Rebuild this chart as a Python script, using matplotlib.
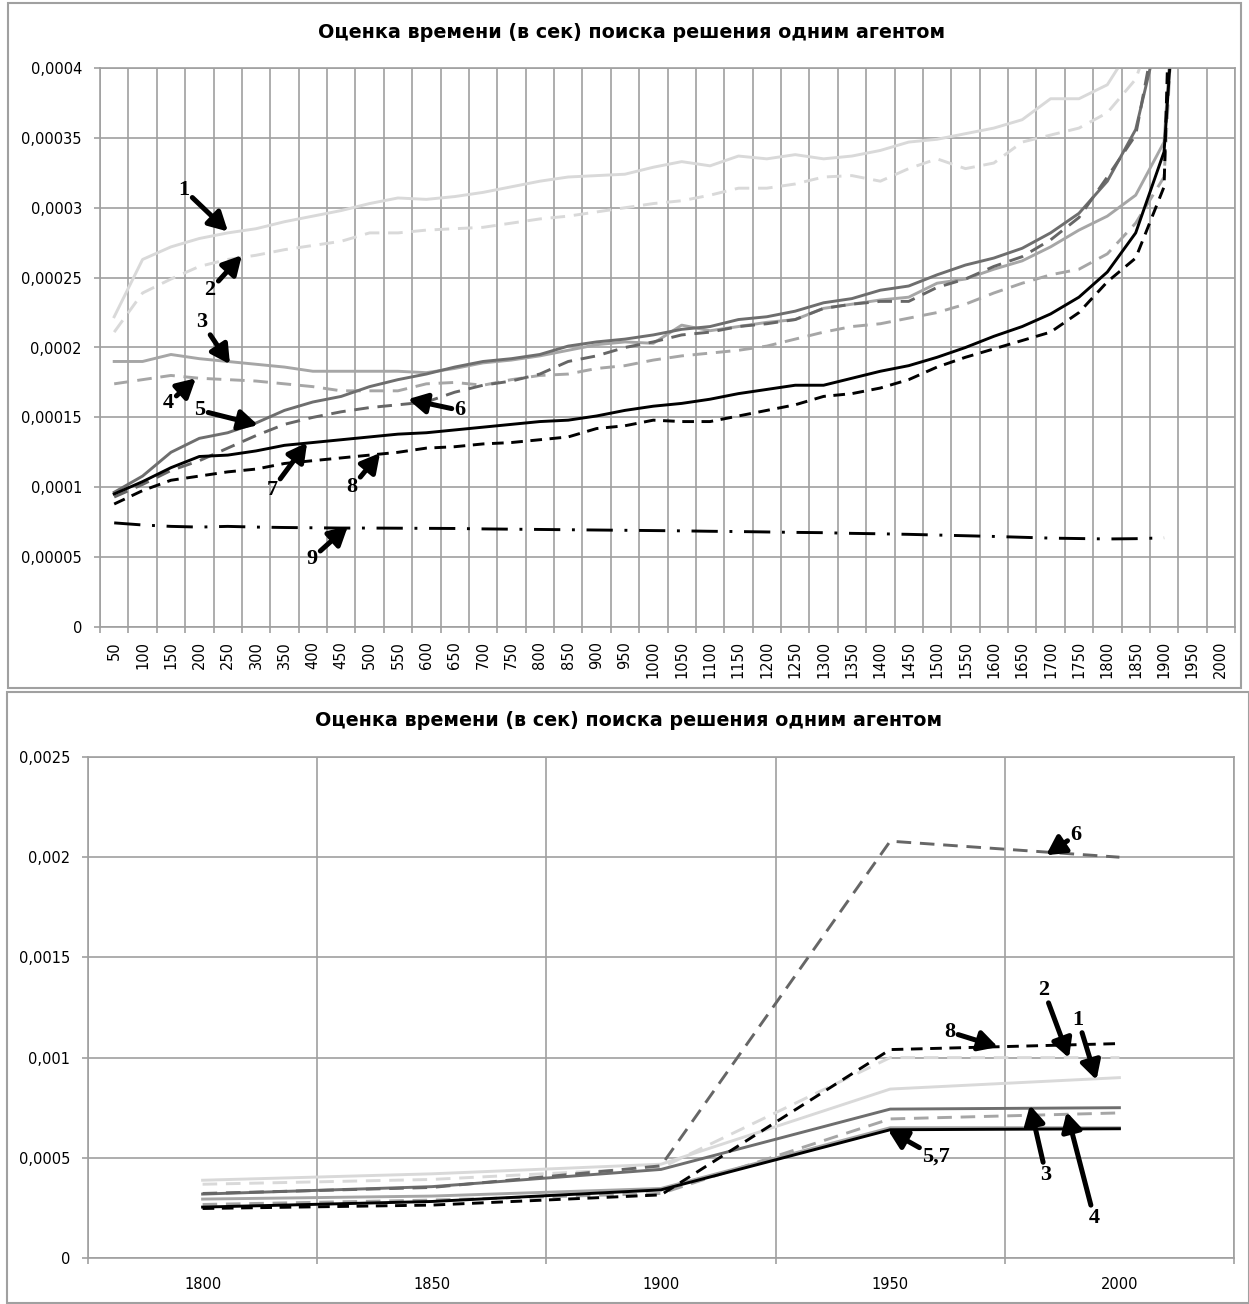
import numpy as np
import matplotlib
matplotlib.use("Agg")
import matplotlib.pyplot as plt
import matplotlib.patches as patches

# данные: время поиска решения (сек) для 9 вариантов, по числу ... от 50 до 2000
categories = list(range(50, 2001, 50))

s1 = [0.000222, 0.000263, 0.000272, 0.000278, 0.000282, 0.000285, 0.000290, 0.000294,
      0.000298, 0.000303, 0.000307, 0.000306, 0.000308, 0.000311, 0.000315, 0.000319,
      0.000322, 0.000323, 0.000324, 0.000329, 0.000333, 0.000330, 0.000337, 0.000335,
      0.000338, 0.000335, 0.000337, 0.000341, 0.000347, 0.000349, 0.000353, 0.000357,
      0.000363, 0.000378, 0.000378, 0.000388, 0.000420, 0.000468, 0.000843, 0.000900]
s2 = [0.000211, 0.000239, 0.000249, 0.000258, 0.000263, 0.000266, 0.000270, 0.000273,
      0.000276, 0.000282, 0.000282, 0.000284, 0.000285, 0.000286, 0.000289, 0.000292,
      0.000294, 0.000297, 0.000300, 0.000303, 0.000305, 0.000309, 0.000314, 0.000314,
      0.000317, 0.000322, 0.000323, 0.000319, 0.000328, 0.000335, 0.000328, 0.000332,
      0.000347, 0.000352, 0.000357, 0.000368, 0.000392, 0.000450, 0.001000, 0.001000]
s3 = [0.000190, 0.000190, 0.000195, 0.000192, 0.000190, 0.000188, 0.000186, 0.000183,
      0.000183, 0.000183, 0.000183, 0.000182, 0.000185, 0.000189, 0.000191, 0.000194,
      0.000198, 0.000202, 0.000204, 0.000203, 0.000216, 0.000212, 0.000215, 0.000218,
      0.000220, 0.000228, 0.000231, 0.000234, 0.000236, 0.000246, 0.000249, 0.000256,
      0.000262, 0.000272, 0.000284, 0.000294, 0.000309, 0.000347, 0.000650, 0.000650]
s4 = [0.000174, 0.000177, 0.000180, 0.000178, 0.000177, 0.000176, 0.000174, 0.000172,
      0.000169, 0.000169, 0.000169, 0.000174, 0.000175, 0.000173, 0.000177, 0.000180,
      0.000181, 0.000185, 0.000187, 0.000191, 0.000194, 0.000196, 0.000198, 0.000201,
      0.000206, 0.000211, 0.000215, 0.000217, 0.000221, 0.000225, 0.000231, 0.000239,
      0.000246, 0.000252, 0.000256, 0.000267, 0.000289, 0.000322, 0.000694, 0.000724]
s5 = [0.0000964, 0.000108, 0.000125, 0.000135, 0.000139, 0.000146, 0.000155, 0.000161,
      0.000165, 0.000172, 0.000177, 0.000181, 0.000186, 0.000190, 0.000192, 0.000195,
      0.000201, 0.000204, 0.000206, 0.000209, 0.000213, 0.000215, 0.000220, 0.000222,
      0.000226, 0.000232, 0.000235, 0.000241, 0.000244, 0.000252, 0.000259, 0.000264,
      0.000271, 0.000282, 0.000296, 0.000319, 0.000356, 0.000442, 0.000743, 0.000750]
s6 = [0.000093, 0.000102, 0.000112, 0.000119, 0.000128, 0.000137, 0.000145, 0.000150,
      0.000154, 0.000157, 0.000159, 0.000161, 0.000168, 0.000173, 0.000176, 0.000181,
      0.000190, 0.000194, 0.000200, 0.000204, 0.000209, 0.000211, 0.000215, 0.000217,
      0.000220, 0.000228, 0.000231, 0.000233, 0.000233, 0.000243, 0.000249, 0.000258,
      0.000265, 0.000277, 0.000293, 0.000322, 0.000352, 0.000460, 0.002080, 0.002000]
s7 = [0.0000952, 0.000104, 0.000114, 0.000122, 0.000123, 0.000126, 0.000130, 0.000132,
      0.000134, 0.000136, 0.000138, 0.000139, 0.000141, 0.000143, 0.000145, 0.000147,
      0.000148, 0.000151, 0.000155, 0.000158, 0.000160, 0.000163, 0.000167, 0.000170,
      0.000173, 0.000173, 0.000178, 0.000183, 0.000187, 0.000193, 0.000200, 0.000208,
      0.000215, 0.000224, 0.000236, 0.000254, 0.000282, 0.000340, 0.000640, 0.000645]
s8 = [0.000088, 0.0000976, 0.000105, 0.000108, 0.000111, 0.000113, 0.000117, 0.000119,
      0.000121, 0.000123, 0.000125, 0.000128, 0.000129, 0.000131, 0.000132, 0.000134,
      0.000136, 0.000142, 0.000144, 0.000148, 0.000147, 0.000147, 0.000151, 0.000155,
      0.000159, 0.000165, 0.000167, 0.000171, 0.000177, 0.000186, 0.000193, 0.000199,
      0.000205, 0.000211, 0.000225, 0.000247, 0.000264, 0.000315, 0.001040, 0.001070]
s9 = [0.0000745, 0.0000730, 0.0000720, 0.0000715, 0.0000720, 0.0000715, 0.0000712, 0.0000710,
      0.0000708, 0.0000708, 0.0000707, 0.0000706, 0.0000705, 0.0000702, 0.0000700, 0.0000698,
      0.0000696, 0.0000694, 0.0000692, 0.0000690, 0.0000688, 0.0000685, 0.0000683, 0.0000680,
      0.0000677, 0.0000675, 0.0000670, 0.0000667, 0.0000663, 0.0000658, 0.0000653, 0.0000648,
      0.0000642, 0.0000636, 0.0000633, 0.0000630, 0.0000632, 0.0000638, np.nan, np.nan]

series = [s1, s2, s3, s4, s5, s6, s7, s8, s9]
colors = ['#d9d9d9', '#d9d9d9', '#a6a6a6', '#a6a6a6', '#6e6e6e', '#666666',
          'black', 'black', 'black']
styles = ['-', (0, (5, 3)), '-', (0, (5, 3)), '-', (0, (5, 3)),
          '-', (0, (4, 2.6)), (0, (9, 4, 1, 4))]

# нижний график - только последние 5 точек (1800..2000), без серии 9
zoom_from = categories.index(1800)

title = 'Оценка времени (в сек) поиска решения одним агентом'

# подписи-стрелки: (текст, x текста, y текста, x стрелки, y стрелки) в координатах данных
top_notes = [('1', 2.46, 3.13e-4, 4.01, 2.83e-4), ('2', 3.38, 2.41e-4, 4.50, 2.66e-4),
             ('3', 3.09, 2.18e-4, 4.08, 1.88e-4), ('4', 1.90, 1.60e-4, 2.88, 1.78e-4),
             ('5', 3.02, 1.55e-4, 5.07, 1.445e-4), ('6', 12.19, 1.55e-4, 10.35, 1.63e-4),
             ('7', 5.56, 0.98e-4, 6.80, 1.32e-4), ('8', 8.38, 1.0e-4, 9.37, 1.245e-4),
             ('9', 6.97, 0.49e-4, 8.24, 0.723e-4)]
bottom_notes = [('6', 3.81, 2.11e-3, 3.68, 2.01e-3), ('8', 3.26, 1.128e-3, 3.47, 1.053e-3),
                ('2', 3.67, 1.337e-3, 3.78, 0.998e-3), ('1', 3.82, 1.188e-3, 3.90, 0.888e-3),
                ('5,7', 3.20, 0.504e-3, 2.99, 0.639e-3), ('3', 3.68, 0.414e-3, 3.61, 0.763e-3),
                ('4', 3.89, 0.20e-3, 3.77, 0.729e-3)]

W, H = 1249, 1304
grid_c = '#a0a0a0'
fig = plt.figure(figsize=(W / 100, H / 100), dpi=100)


def px_rect(x0, y0, x1, y1):
    # прямоугольник в пикселях (от верхнего левого угла) -> доли фигуры
    return [x0 / W, 1 - y1 / H, (x1 - x0) / W, (y1 - y0) / H]


def fmt(v):
    s = f"{v:.5f}".rstrip('0').rstrip('.')
    return s.replace('.', ',')


def style_axes(ax, n, ymax, ystep, rot):
    ax.set_xlim(-0.5, n - 0.5)
    ax.set_ylim(0, ymax)
    yt = np.arange(0, ymax + ystep / 2, ystep)
    ax.set_yticks(yt)
    ax.set_yticklabels([fmt(v) for v in yt])
    ax.set_xticks(np.arange(n + 1) - 0.5)
    ax.set_xticklabels([])
    ax.set_xticks(np.arange(n), minor=True)
    ax.grid(True, which='major', color=grid_c, lw=1.2)
    ax.set_axisbelow(True)
    for sp in ax.spines.values():
        sp.set_color(grid_c)
        sp.set_linewidth(1.2)
    ax.tick_params(axis='y', length=4, color=grid_c, width=1.2, labelsize=10.5, pad=9)
    ax.tick_params(axis='x', which='major', length=4, color=grid_c, width=1.2)
    ax.tick_params(axis='x', which='minor', length=0, labelsize=10.5,
                   pad=10 if rot else 14, labelrotation=rot)


def add_notes(ax, notes):
    for txt, tx, ty, hx, hy in notes:
        ax.annotate(txt, xy=(hx, hy), xytext=(tx, ty), ha='center', va='center',
                    fontsize=16, fontweight='bold', family='Liberation Serif',
                    annotation_clip=False,
                    arrowprops=dict(arrowstyle='-|>,head_length=0.7,head_width=0.38',
                                    lw=3.6, color='black', shrinkA=0, shrinkB=0))


# рамки двух диаграмм
fig.patches.append(patches.Rectangle((8 / W, 1 - 688 / H), (1241 - 8) / W, (688 - 3) / H,
                                     transform=fig.transFigure, fill=False,
                                     edgecolor=grid_c, lw=1.5))
fig.patches.append(patches.Rectangle((7 / W, 1 - 1303 / H), (1249 - 7) / W, (1303 - 692) / H,
                                     transform=fig.transFigure, fill=False,
                                     edgecolor=grid_c, lw=1.5))

# верхняя диаграмма
ax1 = fig.add_axes(px_rect(100, 68, 1235, 627))
x1 = np.arange(len(categories))
for s, c, ls in zip(series, colors, styles):
    ax1.plot(x1, s, color=c, linestyle=ls, lw=2.1)
style_axes(ax1, len(categories), 0.0004, 0.00005, 90)
ax1.set_xticklabels([str(c) for c in categories], minor=True)
add_notes(ax1, top_notes)
fig.text(632 / W, 1 - 32 / H, title, ha='center', va='center', fontsize=13.8,
         fontweight='bold')

# нижняя диаграмма
ax2 = fig.add_axes(px_rect(88, 757, 1234, 1258))
cats2 = categories[zoom_from:]
x2 = np.arange(len(cats2))
for s, c, ls in zip(series[:8], colors[:8], styles[:8]):
    ax2.plot(x2, s[zoom_from:], color=c, linestyle=ls, lw=2.1)
style_axes(ax2, len(cats2), 0.0025, 0.0005, 0)
ax2.set_xticklabels([str(c) for c in cats2], minor=True)
add_notes(ax2, bottom_notes)
fig.text(629 / W, 1 - 721 / H, title, ha='center', va='center', fontsize=13.8,
         fontweight='bold')

fig.savefig('out.png', dpi=100)
